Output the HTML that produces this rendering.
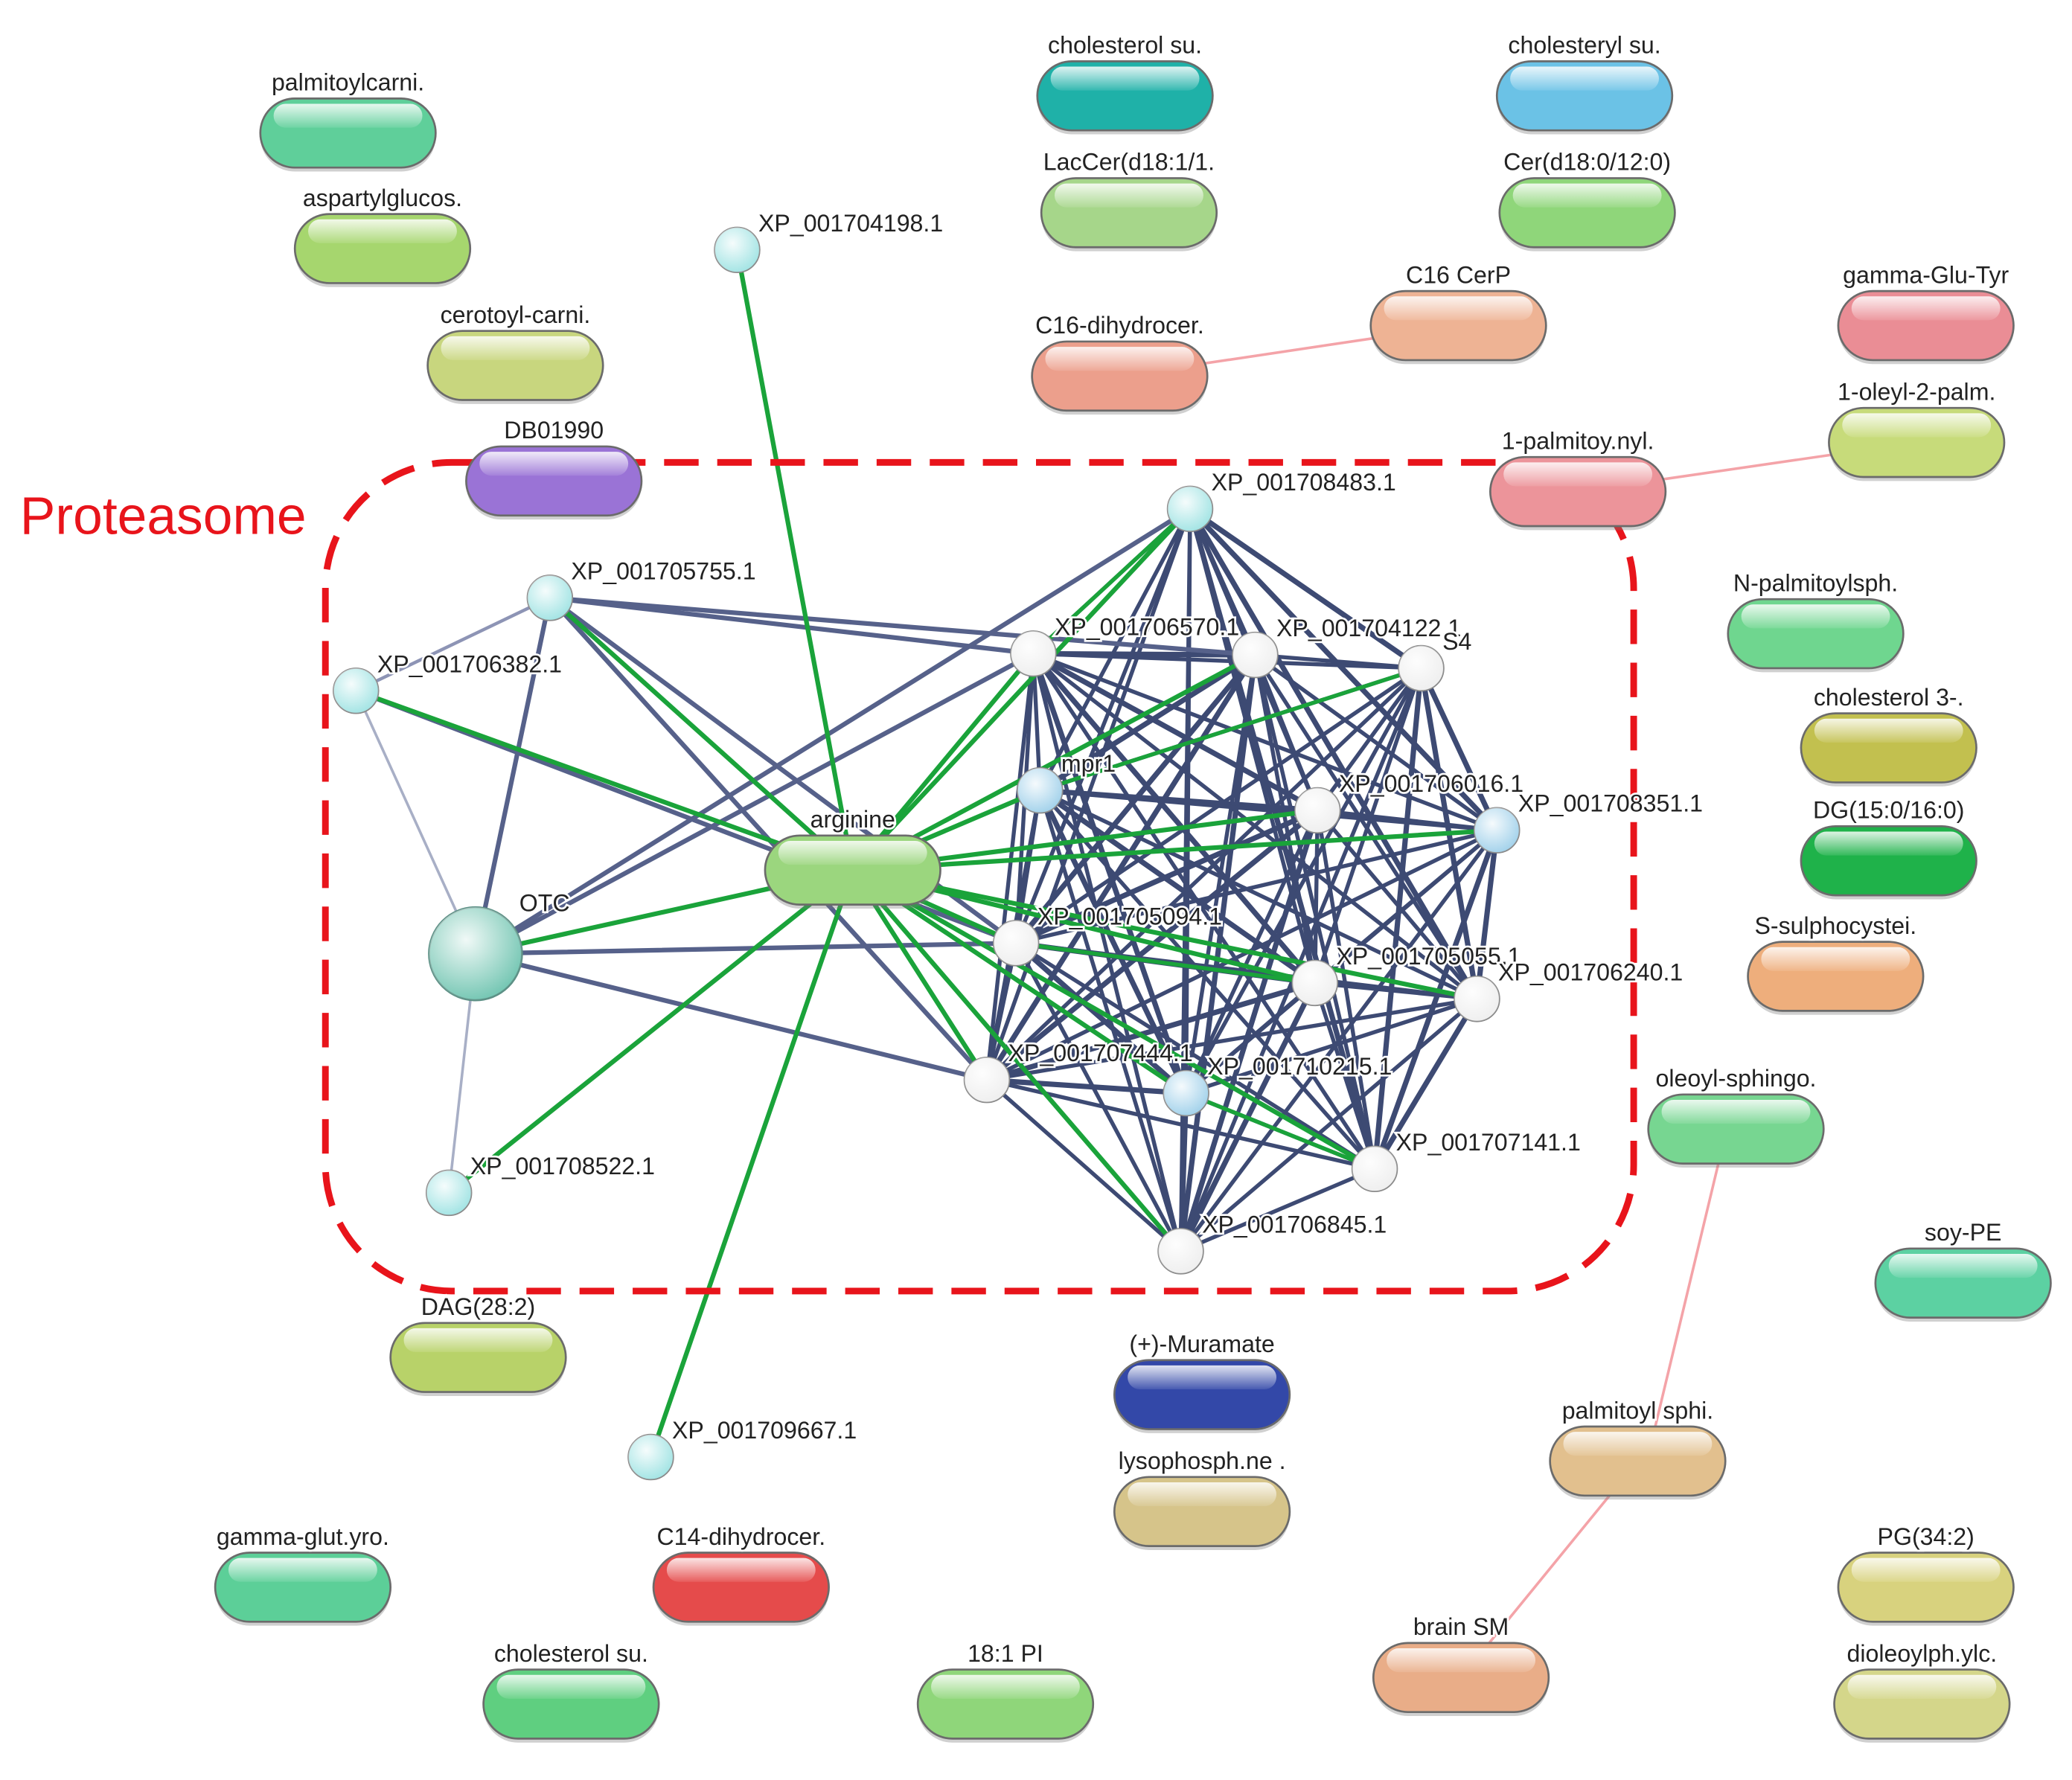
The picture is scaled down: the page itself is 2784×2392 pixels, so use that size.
<!DOCTYPE html>
<html><head><meta charset="utf-8">
<style>
html,body{margin:0;padding:0;background:#fff;}
svg{display:block;}
text{font-family:"Liberation Sans",sans-serif;}
</style></head>
<body>
<svg id="s" width="2784" height="2392" viewBox="0 0 1560 1340" xmlns="http://www.w3.org/2000/svg">
<defs>
<linearGradient id="hl" x1="0" y1="0" x2="0" y2="1">
<stop offset="0" stop-color="#fff" stop-opacity="0.85"/>
<stop offset="1" stop-color="#fff" stop-opacity="0.1"/>
</linearGradient>
<radialGradient id="sph" cx="0.4" cy="0.35" r="0.7">
<stop offset="0" stop-color="#fff" stop-opacity="0.9"/>
<stop offset="1" stop-color="#fff" stop-opacity="0"/>
</radialGradient>
</defs>
<g id="edges"></g>
<rect x="245" y="348" width="985" height="624" rx="95" ry="95" fill="none" stroke="#e8141b" stroke-width="5" stroke-dasharray="26,14"/>
<text x="15" y="402" font-size="40" fill="#e8141b" style="font-family:'Liberation Sans',sans-serif">Proteasome</text>
<g id="nodes"></g>
</svg>
<script>
var NS="http://www.w3.org/2000/svg";
function el(p,t,a,txt){var e=document.createElementNS(NS,t);for(var k in a)e.setAttribute(k,a[k]);if(txt!==undefined)e.textContent=txt;p.appendChild(e);return e;}
var E=document.getElementById('edges'),N=document.getElementById('nodes');
var C={
 a198:[555,188],a755:[414,450],a382:[268,520],otc:[358,718],a522:[338,898],a667:[490,1097],
 a483:[896,383],a570:[778,492],a122:[945,493],s4:[1070,503],mpr:[783,595],a016:[992,610],a351:[1127,625],
 a094:[765,710],a055:[990,740],a240:[1112,752],a444:[743,813],a215:[893,823],a141:[1035,880],a845:[889,942],
 arg:[642,655]
};
function line(a,b,col,w){el(E,'line',{x1:a[0],y1:a[1],x2:b[0],y2:b[1],stroke:col,'stroke-width':w,'stroke-linecap':'round'});}
var navy='#3d4a73',green='#1aa33a';
var cl=['a483','a570','a122','s4','mpr','a016','a351','a094','a055','a240','a444','a215','a141','a845'];
for(var i=0;i<cl.length;i++)for(var j=i+1;j<cl.length;j++){line(C[cl[i]],C[cl[j]],navy,(i+j)%3==0?4:3);}
// extra navy
[['a755','a570'],['a755','a094'],['a755','a122'],['a755','a444'],['otc','a755'],['otc','a570'],['otc','a094'],['otc','a444'],['otc','a483'],['a382','a094']].forEach(function(p){line(C[p[0]],C[p[1]],'#56618a',3.5);});
line(C.a382,C.otc,'#a8afc6',2);line(C.otc,C.a522,'#a8afc6',2);line(C.a382,C.a755,'#8d94b5',2.5);
// green
['a198','a667','a755','a382','otc','a522','a483','a570','mpr','a016','a351','a094','a055','a240','a444','a215','a141','a845','a122'].forEach(function(k){line(C.arg,C[k],green,3.5);});
line(C.a483,C.a570,green,3);line(C.a094,C.a055,green,3);line(C.a215,C.a141,green,3);line(C.s4,C.mpr,green,3);
var pink='#f4a3a8';
line([843,283],[1098,245],pink,2);line([1188,370],[1443,333],pink,2);line([1300,850],[1240,1100],pink,2);line([1233,1100],[1100,1263],pink,2);
// pills
var P=[
['palmitoylcarni.',262,100,'#5fcf9a'],['aspartylglucos.',288,187,'#a6d66e'],['cerotoyl-carni.',388,275,'#c8d67e'],['DB01990',417,362,'#9a73d6'],
['cholesterol su.',847,72,'#1fb1a8'],['cholesteryl su.',1193,72,'#6bc2e6'],['LacCer(d18:1/1.',850,160,'#a6d68a'],['Cer(d18:0/12:0)',1195,160,'#8fd67a'],
['C16 CerP',1098,245,'#eeb394'],['C16-dihydrocer.',843,283,'#ec9f8c'],['gamma-Glu-Tyr',1450,245,'#ea8d95'],['1-oleyl-2-palm.',1443,333,'#c7db7a'],
['1-palmitoy.nyl.',1188,370,'#ec949a'],['N-palmitoylsph.',1367,477,'#6fd68f'],['cholesterol 3-.',1422,563,'#c2c04f'],['DG(15:0/16:0)',1422,648,'#1fb24a'],
['S-sulphocystei.',1382,735,'#eeae7c'],['oleoyl-sphingo.',1307,850,'#77d691'],['soy-PE',1478,966,'#5cd1a2'],['DAG(28:2)',360,1022,'#b8d269'],
['(+)-Muramate',905,1050,'#3348a8'],['lysophosph.ne .',905,1138,'#d6c48a'],['palmitoyl sphi.',1233,1100,'#e2c08e'],['gamma-glut.yro.',228,1195,'#5ccf98'],
['C14-dihydrocer.',558,1195,'#e54b4b'],['PG(34:2)',1450,1195,'#d8d27e'],['brain SM',1100,1263,'#e9ad88'],['dioleoylph.ylc.',1447,1283,'#d4d68a'],
['cholesterol su.',430,1283,'#5fcf80'],['18:1 PI',757,1283,'#8fd67a'],['arginine',642,655,'#9bd67e']
];
P.forEach(function(p){
 var x=p[1]-66,y=p[2]-26;
 el(N,'rect',{x:x,y:y+3,width:132,height:52,rx:26,fill:'#777',opacity:0.35});
 el(N,'rect',{x:x,y:y,width:132,height:52,rx:26,fill:p[3],stroke:'#6b6b6b','stroke-width':1.5});
 el(N,'rect',{x:x+10,y:y+4,width:112,height:18,rx:9,fill:'url(#hl)'});
 el(N,'text',{x:p[1],y:p[2]-32,'font-size':18,'text-anchor':'middle',fill:'#222',stroke:'#fff','stroke-width':3,'paint-order':'stroke'},p[0]);
});
// circles
var Q=[
['XP_001704198.1','a198','#9fe3e3',0],['XP_001705755.1','a755','#9fe3e3',0],['XP_001706382.1','a382','#9fe3e3',0],['XP_001708522.1','a522','#9fe3e3',0],
['XP_001709667.1','a667','#9fe3e3',0],['XP_001708483.1','a483','#9fe3e3',0],['XP_001706570.1','a570','#eeeeee',0],['XP_001704122.1','a122','#eeeeee',0],
['S4','s4','#eeeeee',0],['mpr1','mpr','#9fd0ea',0],['XP_001706016.1','a016','#eeeeee',0],['XP_001708351.1','a351','#9fd0ea',0],
['XP_001705094.1','a094','#eeeeee',0],['XP_001705055.1','a055','#eeeeee',0],['XP_001706240.1','a240','#eeeeee',0],['XP_001707444.1','a444','#eeeeee',0],
['XP_001710215.1','a215','#9fd0ea',0],['XP_001707141.1','a141','#eeeeee',0],['XP_001706845.1','a845','#eeeeee',0]
];
Q.forEach(function(q){var c=C[q[1]];
 el(N,'circle',{cx:c[0],cy:c[1],r:17,fill:q[2],stroke:'#888','stroke-width':1});
 el(N,'circle',{cx:c[0],cy:c[1],r:17,fill:'url(#sph)'});
 el(N,'text',{x:c[0]+16,y:c[1]-14,'font-size':18,fill:'#222',stroke:'#fff','stroke-width':3,'paint-order':'stroke'},q[0]);
});
var o=C.otc;
el(N,'circle',{cx:o[0],cy:o[1],r:35,fill:'#6fc4b0',stroke:'#5a8f84','stroke-width':1.5});
el(N,'circle',{cx:o[0],cy:o[1],r:35,fill:'url(#sph)'});
el(N,'text',{x:o[0]+33,y:o[1]-32,'font-size':18,fill:'#222',stroke:'#fff','stroke-width':3,'paint-order':'stroke'},'OTC');
</script>
</body></html>
